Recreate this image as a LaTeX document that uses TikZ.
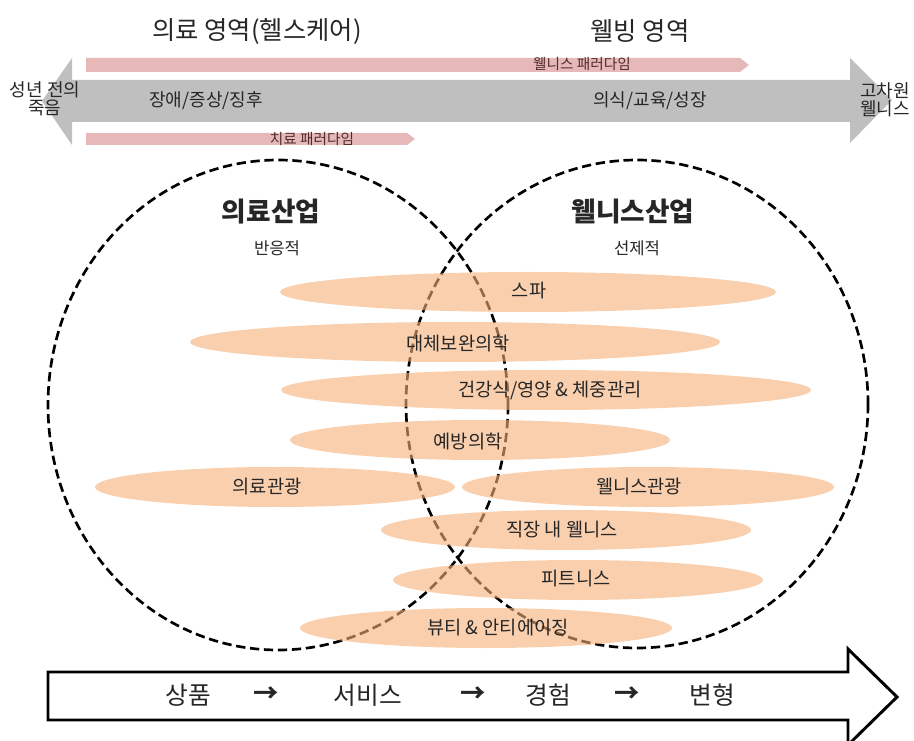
\documentclass[tikz,border=0pt]{standalone}
\usepackage{fontspec}
\setmainfont{Noto Sans CJK KR}
\definecolor{pinkbar}{RGB}{230,185,184}
\definecolor{grayarrow}{RGB}{191,191,191}
\definecolor{peach}{RGB}{245,175,120}
\definecolor{txt}{RGB}{38,38,38}
\definecolor{bartxt}{RGB}{80,45,45}
\tikzset{
  txtbase/.style={inner sep=0pt, text=txt},
  titlelab/.style={txtbase, font=\fontsize{19}{21}\selectfont},
  headlab/.style={txtbase, font=\fontsize{20}{22}\selectfont\bfseries},
  sublab/.style={txtbase, font=\fontsize{12.5}{14}\selectfont},
  elllab/.style={txtbase, font=\fontsize{14}{16}\selectfont},
  paralab/.style={inner sep=0pt, text=bartxt, font=\fontsize{11}{12}\selectfont},
  barlab/.style={txtbase, font=\fontsize{13.5}{15}\selectfont},
  endlab/.style={txtbase, align=center, font=\fontsize{13.5}{13.5}\selectfont},
  flowlab/.style={txtbase, font=\fontsize{18.5}{20}\selectfont},
  flowarrow/.style={txtbase, font=\fontsize{19}{20}\selectfont\bfseries},
  dashcirc/.style={draw=black, line width=2pt, dash pattern=on 7pt off 3.5pt},
  peachfill/.style={fill=peach, fill opacity=0.6},
}
\begin{document}
\begin{tikzpicture}[x=0.75pt,y=-0.75pt]
\useasboundingbox (0,0) rectangle (914,741);

% titles
\node[titlelab] (t1) at (257,31) {의료 영역(헬스케어)};
\node[titlelab] (t2) at (640,31) {웰빙 영역};

% gray double arrow
\fill[grayarrow] (42,101) -- (72,58) -- (72,80) -- (850,80) -- (850,58) -- (892,100)
  -- (850,143) -- (850,122) -- (72,122) -- (72,145) -- cycle;

% pink paradigm bars
\fill[pinkbar] (86,58) -- (740,58) -- (749,65) -- (740,72) -- (86,72) -- cycle;
\fill[pinkbar] (86,133) -- (407,133) -- (415,139) -- (407,145) -- (86,145) -- cycle;
\node[paralab] (wp) at (582,64) {웰니스 패러다임};
\node[paralab] (tp) at (312,139) {치료 패러다임};

\node[barlab] (b1) at (206,101) {장애/증상/징후};
\node[barlab] (b2) at (650,101) {의식/교육/성장};
\node[endlab] (e1) at (45,99) {성년 전의\\죽음};
\node[endlab] (e2) at (885,100) {고차원\\웰니스};

% industry circles
\draw[dashcirc] (278,405) ellipse [x radius=230, y radius=245];
\draw[dashcirc] (637,404) ellipse [x radius=231, y radius=244];

\node[headlab] (h1) at (271,212) {의료산업};
\node[sublab] (s1) at (277,248) {반응적};
\node[headlab] (h2) at (633,212) {웰니스산업};
\node[sublab] (s2) at (637,248) {선제적};

% peach ellipses
\fill[peachfill] (528,292) ellipse [x radius=248, y radius=20];
\fill[peachfill] (455,342) ellipse [x radius=265, y radius=20];
\fill[peachfill] (546,390) ellipse [x radius=265, y radius=20];
\fill[peachfill] (480,440) ellipse [x radius=190, y radius=20];
\fill[peachfill] (275,487) ellipse [x radius=180, y radius=20];
\fill[peachfill] (648,487) ellipse [x radius=186, y radius=20];
\fill[peachfill] (566,530) ellipse [x radius=185, y radius=20];
\fill[peachfill] (578,580) ellipse [x radius=185, y radius=20];
\fill[peachfill] (486,628) ellipse [x radius=186, y radius=20];

\node[elllab] (l1) at (529,291) {스파};
\node[elllab] (l2) at (458,343) {대체보완의학};
\node[elllab] (l3) at (550,390) {건강식/영양 \& 체중관리};
\node[elllab] (l4) at (468,441) {예방의학};
\node[elllab] (l5) at (267,487) {의료관광};
\node[elllab] (l6) at (639,487) {웰니스관광};
\node[elllab] (l7) at (562,530) {직장 내 웰니스};
\node[elllab] (l8) at (576,579) {피트니스};
\node[elllab] (l9) at (498,628) {뷰티 \& 안티에이징};

% bottom process arrow
\draw[line width=2.2pt, fill=white, line join=miter]
  (48,672) -- (848,672) -- (848,649) -- (897,697) -- (848,745) -- (848,720) -- (48,720) -- cycle;
\node[flowlab] (f1) at (188,695) {상품};
\node[flowarrow] (a1) at (266,695) {→};
\node[flowlab] (f2) at (368,695) {서비스};
\node[flowarrow] (a2) at (473,695) {→};
\node[flowlab] (f3) at (548,695) {경험};
\node[flowarrow] (a3) at (627,695) {→};
\node[flowlab] (f4) at (712,695) {변형};
\end{tikzpicture}
\end{document}
